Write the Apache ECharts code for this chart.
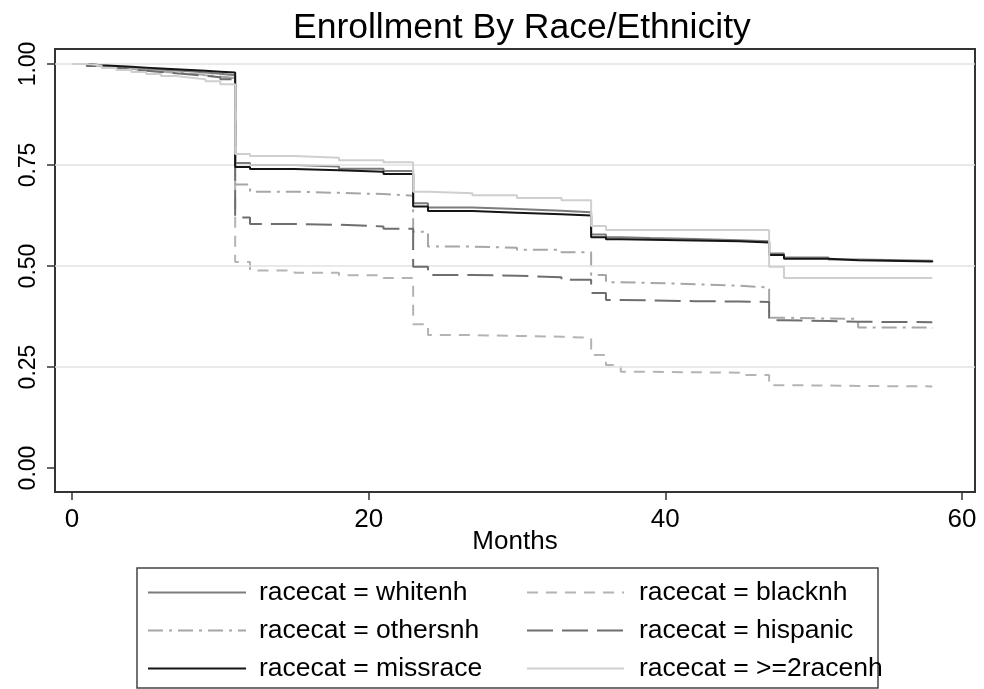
<!DOCTYPE html>
<html>
<head>
<meta charset="utf-8">
<script src="https://cdn.jsdelivr.net/npm/echarts@6/dist/echarts.min.js"></script>
<style>
html,body{margin:0;padding:0;background:#fff;}
#chart{width:984px;height:689px;}
</style>
</head>
<body>
<div id="chart"></div>
<script>
// ---- data ----
var months = [0,1,2,3,4,5,6,7,8,9,10,11,12,15,18,21,23,24,27,30,33,35,36,37,39,42,45,47,48,51,53,58];
var whitenh = [1.000,0.996,0.993,0.990,0.988,0.986,0.984,0.982,0.979,0.976,0.972,
  0.755,0.750,0.746,0.741,0.735,
  0.655,0.645,0.641,0.637,0.633,
  0.578,0.571,0.569,0.567,0.564,0.561,
  0.531,0.521,0.516,0.513,0.511];
var blacknh = [1.000,0.995,0.991,0.988,0.984,0.981,0.978,0.975,0.972,0.968,0.964,
  0.510,0.489,0.483,0.477,0.470,
  0.356,0.329,0.327,0.325,0.322,
  0.280,0.255,0.238,0.237,0.236,0.230,
  0.205,0.204,0.203,0.202,0.202];
var othersnh = [1.000,0.995,0.991,0.988,0.985,0.982,0.979,0.976,0.973,0.969,0.965,
  0.702,0.684,0.681,0.678,0.674,
  0.585,0.548,0.545,0.540,0.534,
  0.478,0.460,0.458,0.455,0.451,0.447,
  0.372,0.370,0.369,0.348,0.346];
var hispanic = [1.000,0.995,0.990,0.986,0.983,0.980,0.977,0.974,0.971,0.967,0.962,
  0.620,0.604,0.602,0.598,0.592,
  0.498,0.478,0.476,0.472,0.466,
  0.433,0.416,0.415,0.413,0.412,0.411,
  0.366,0.364,0.362,0.361,0.360];
var missrace = [1.000,0.997,0.995,0.993,0.991,0.989,0.987,0.985,0.983,0.981,0.979,
  0.745,0.740,0.737,0.733,0.728,
  0.647,0.636,0.632,0.628,0.625,
  0.571,0.566,0.565,0.563,0.561,0.558,
  0.527,0.518,0.514,0.511,0.509];
var race2 = [1.000,0.996,0.990,0.985,0.980,0.975,0.970,0.966,0.962,0.957,0.950,
  0.777,0.772,0.768,0.762,0.757,
  0.684,0.680,0.675,0.668,0.663,
  0.599,0.589,0.589,0.589,0.589,0.589,
  0.498,0.470,0.470,0.470,0.470];
var xTicks = [0,20,40,60];
var yTicks = [0,0.25,0.5,0.75,1];
var gridValues = [0.25,0.5,0.75,1];
var names = ['racecat = whitenh','racecat = blacknh','racecat = othersnh','racecat = hispanic','racecat = missrace','racecat = >=2racenh'];

function pairs(vals){ return months.map(function(m,i){ return [m, vals[i]]; }); }

var FONT = "'Liberation Sans', Arial, sans-serif";

var styles = [
  {color:'#7c7c7c', width:2, type:'solid'},
  {color:'#b4b4b4', width:2, type:[11,8]},
  {color:'#a6a6a6', width:2, type:[15,6,3,6]},
  {color:'#6e6e6e', width:2, type:[26,9]},
  {color:'#151515', width:2, type:'solid'},
  {color:'#cfcfcf', width:2, type:'solid'}
];
var dataSets = [whitenh, blacknh, othersnh, hispanic, missrace, race2];

var series = [{
  type:'line', data:[], silent:true, z:1,
  markLine:{silent:true, symbol:['none','none'], label:{show:false},
    lineStyle:{color:'#e2e2e2', type:'solid', width:1.5},
    emphasis:{disabled:true},
    data: gridValues.map(function(v){ return {yAxis:v}; })}
}];
dataSets.forEach(function(d,i){
  series.push({
    name:names[i], type:'line', step:'end', showSymbol:false, symbol:'none',
    data:pairs(d), z:2+i, animation:false,
    lineStyle:{color:styles[i].color, width:styles[i].width, type:styles[i].type},
    itemStyle:{color:styles[i].color},
    emphasis:{disabled:true}
  });
});

var legendCommon = {orient:'vertical', top:579, padding:0, itemHeight:24, itemGap:11,
  selectedMode:false, itemStyle:{opacity:0, borderWidth:0}};

var chart = echarts.init(document.getElementById('chart'), null, {renderer:'canvas'});
chart.setOption({
  animation:false,
  backgroundColor:'#ffffff',
  title:{text:'Enrollment By Race/Ethnicity', left:288, top:5,
    textStyle:{fontFamily:FONT, fontSize:35.5, fontWeight:'normal', color:'#000'}},
  grid:{left:55, top:49, right:9, bottom:197, show:true, borderColor:'#333', borderWidth:2, backgroundColor:'#fff'},
  xAxis:{type:'value', min:-1.146, max:60.88,
    name:'Months', nameLocation:'middle', nameGap:37, nameMoveOverlap:false,
    nameTextStyle:{fontFamily:FONT, fontSize:26, color:'#000'},
    axisLine:{show:false, onZero:false},
    axisTick:{show:true, length:8, customValues:xTicks, lineStyle:{color:'#333', width:1.5}},
    axisLabel:{customValues:xTicks, margin:15, fontFamily:FONT, fontSize:26, color:'#000'},
    splitLine:{show:false}},
  yAxis:{type:'value', min:-0.0594, max:1.0371,
    axisLine:{show:false, onZero:false},
    axisTick:{show:true, length:8, customValues:yTicks, lineStyle:{color:'#333', width:1.5}},
    axisLabel:{customValues:yTicks, rotate:90, margin:15, fontFamily:FONT, fontSize:23, color:'#000',
      formatter:function(v){ return v.toFixed(2); }},
    splitLine:{show:false}},
  legend:[
    Object.assign({}, legendCommon, {left:147, itemWidth:98,
      data:[names[0],names[2],names[4]],
      textStyle:{fontFamily:FONT, fontSize:26.5, color:'#000', padding:[0,0,0,8]}}),
    Object.assign({}, legendCommon, {left:526, itemWidth:97,
      data:[names[1],names[3],names[5]],
      textStyle:{fontFamily:FONT, fontSize:26.5, color:'#000', padding:[0,0,0,10]}})
  ],
  graphic:[{type:'rect', shape:{x:137, y:568, width:741, height:120}, silent:true,
    style:{fill:'none', stroke:'#444', lineWidth:1.5}}],
  series:series
});
</script>
</body>
</html>
